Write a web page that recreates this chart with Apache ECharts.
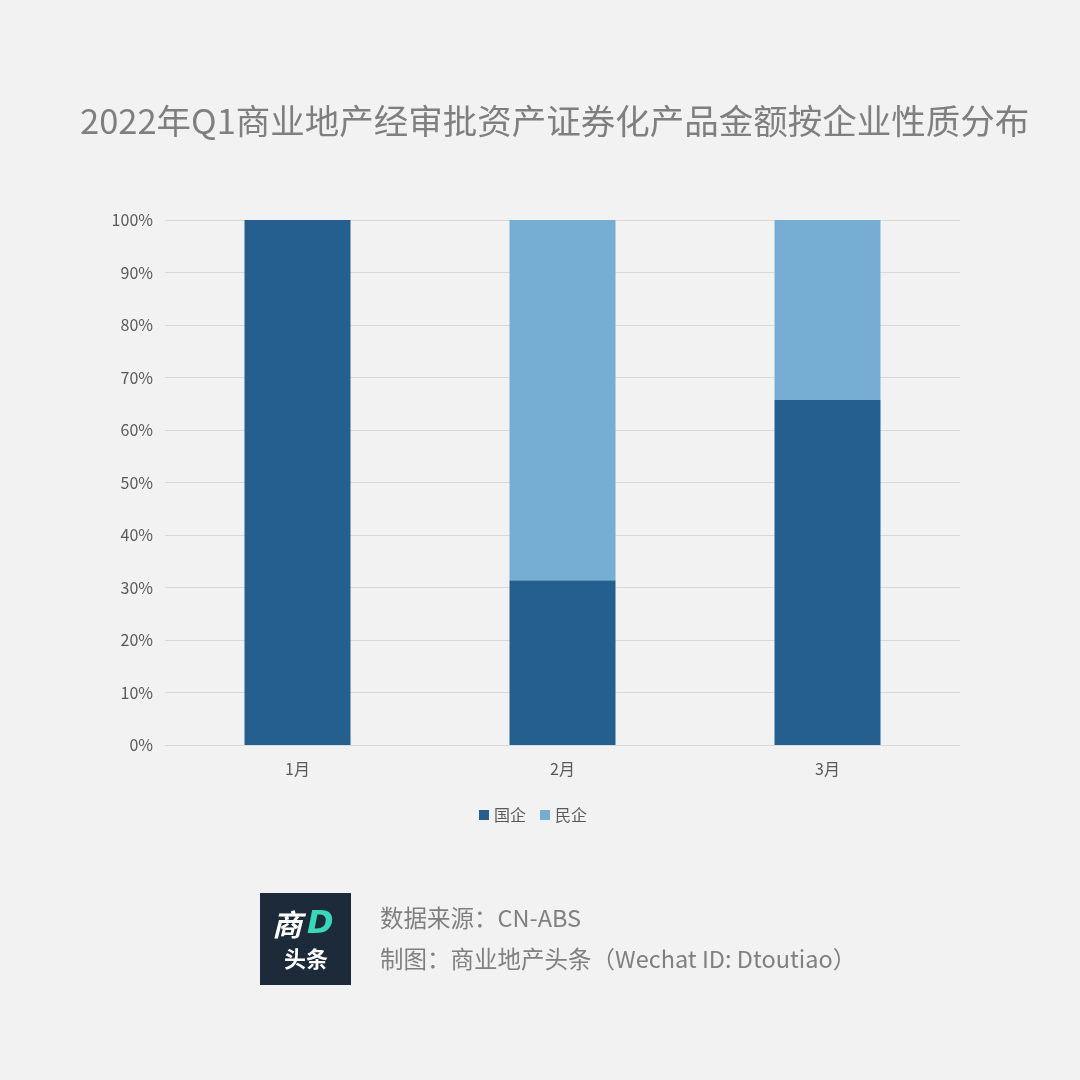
<!DOCTYPE html>
<html><head><meta charset="utf-8">
<script src="https://cdn.jsdelivr.net/npm/echarts@6/dist/echarts.min.js"></script>
<style>html,body{margin:0;padding:0;background:#f2f2f2}#c{width:1080px;height:1080px}</style>
</head><body><div id="c"></div>
<script>
const categories = ['1月', '2月', '3月'];
const stateOwned = [100, 31.4, 65.7];
const privateOwned = [0, 68.6, 34.3];
const seriesNames = ['国企', '民企'];
const titleText = '2022年Q1商业地产经审批资产证券化产品金额按企业性质分布';
const sourceLines = ['数据来源：CN-ABS', '制图：商业地产头条（Wechat ID: Dtoutiao）'];

const font = '"Microsoft YaHei","Noto Sans CJK SC","Noto Sans",sans-serif';
const chart = echarts.init(document.getElementById('c'));
chart.setOption({
  backgroundColor: '#f2f2f2',
  animation: false,
  title: {
    text: titleText, left: 75, top: 99,
    textStyle: { fontFamily: font, fontSize: 34.5, fontWeight: 'normal', color: '#7f7f7f' }
  },
  legend: {
    data: seriesNames, left: 474, top: 802, itemWidth: 10, itemHeight: 10, itemGap: 14,
    icon: 'rect',
    textStyle: { fontFamily: font, fontSize: 16, color: '#595959' }
  },
  grid: { left: 165, right: 120, top: 220, bottom: 335 },
  xAxis: {
    type: 'category', data: categories,
    axisLine: { lineStyle: { color: '#d9d9d9' } }, axisTick: { show: false },
    axisLabel: { fontFamily: font, fontSize: 16, color: '#595959', margin: 16 }
  },
  yAxis: {
    type: 'value', min: 0, max: 100, interval: 10,
    axisLabel: { formatter: '{value}%', fontFamily: font, fontSize: 16, color: '#595959', margin: 12 },
    splitLine: { lineStyle: { color: '#d9d9d9' } },
    axisLine: { show: false }, axisTick: { show: false }
  },
  series: [
    { name: seriesNames[0], type: 'bar', stack: 's', data: stateOwned, barWidth: '40%',
      itemStyle: { color: '#245f8f' } },
    { name: seriesNames[1], type: 'bar', stack: 's', data: privateOwned, barWidth: '40%',
      itemStyle: { color: '#76aed3' } }
  ],
  graphic: [
    { type: 'rect', left: 260, top: 893, shape: { width: 91, height: 92 }, style: { fill: '#1d2a3a' } },
    { type: 'text', left: 272, top: 910, style: { text: '商', font: 'italic bold 30px ' + font, fill: '#ffffff' } },
    { type: 'text', left: 307, top: 909, style: { text: 'D', font: 'italic bold 32px "DejaVu Sans",sans-serif', fill: '#36d9b9' } },
    { type: 'text', left: 284, top: 948, style: { text: '头条', font: 'bold 22px ' + font, fill: '#ffffff' } },
    { type: 'text', left: 380, top: 906, style: { text: sourceLines[0], font: '23.5px ' + font, fill: '#808080' } },
    { type: 'text', left: 380, top: 947, style: { text: sourceLines[1], font: '23.5px ' + font, fill: '#808080' } }
  ]
});
</script></body></html>
